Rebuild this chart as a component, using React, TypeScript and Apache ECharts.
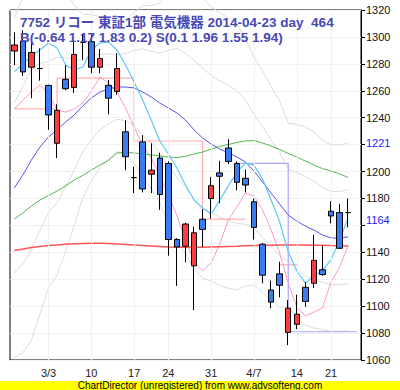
import React, { useEffect, useRef } from 'react';
import * as echarts from 'echarts';

const dates = [
  '2/25', '2/26', '2/27', '2/28', '3/3', '3/4', '3/5', '3/6', '3/7', '3/10',
  '3/11', '3/12', '3/13', '3/14', '3/17', '3/18', '3/19', '3/20', '3/24', '3/25',
  '3/26', '3/27', '3/28', '3/31', '4/1', '4/2', '4/3', '4/4', '4/7', '4/8',
  '4/9', '4/10', '4/11', '4/14', '4/15', '4/16', '4/17', '4/21', '4/22', '4/23', '4/24',
];
const tickIndex = [4, 9, 14, 18, 23, 28, 33, 37];
const tickText = ['3/3', '10', '17', '24', '31', '4/7', '14', '21'];

const opens = [1289.5, 1297, 1277.5, 1276.5, 1264, 1221, 1268.5, 1262.5, 1296, 1296.5, 1277.5, 1264, 1259.5, 1229.5, 1195.5, 1222, 1198, 1210, 1206, 1149.5, 1144.5, 1130, 1164.5, 1180, 1199, 1217.5, 1206, 1195, 1177.5, 1146, 1112, 1124, 1080.5, 1086.5, 1114, 1117, 1127, 1170.5, 1169.5, 1169.5];
const closes = [1294, 1274, 1288.5, 1276.5, 1242, 1245.5, 1261.5, 1287, 1296, 1277.5, 1284, 1254.5, 1276.5, 1211, 1195.5, 1187, 1201, 1183, 1149.5, 1144, 1161, 1154.5, 1157, 1189.5, 1196.5, 1207.5, 1192, 1190, 1158.5, 1123, 1103, 1115.5, 1098.5, 1094, 1103.5, 1134, 1123.5, 1167, 1143, 1169.5];
const lows = [1279, 1271, 1254.5, 1267.5, 1231, 1210, 1260.5, 1258.5, 1283, 1273, 1273, 1242.5, 1257, 1201, 1184, 1184.5, 1184, 1171.5, 1137.5, 1115, 1132.5, 1097, 1144, 1165, 1176.5, 1205.5, 1186, 1184.5, 1149.5, 1117, 1098.5, 1106.5, 1071, 1083, 1099.5, 1113.5, 1122.5, 1161.5, 1142.5, 1158.5];
const highs = [1303.5, 1305, 1296.5, 1291.5, 1264.5, 1250, 1279, 1296.5, 1302, 1301.5, 1291, 1268, 1288, 1238, 1203.5, 1227, 1221, 1214, 1207.5, 1150.5, 1162, 1159, 1172, 1196, 1208, 1224, 1207.5, 1201.5, 1180, 1147, 1119, 1133, 1104.5, 1108.5, 1118, 1153, 1145, 1178, 1176, 1180];

const cyanLine = [1274.2, 1279.9, 1285.8, 1290.3, 1295.5, 1291.8, 1279.1, 1275.4, 1277.7, 1290.3, 1295.5, 1296.2, 1290.3, 1279.1, 1266.5, 1253.1, 1238.3, 1222.7, 1213, 1202.6, 1190, 1178.8, 1172.9, 1168.4, 1178.8, 1189.2, 1199.6, 1206.3, 1204.8, 1194.4, 1178.8, 1162.5, 1140.2, 1126.1, 1117.1, 1122.3, 1126.8, 1134.3, 1149.1, 1165.5];
const blueLine = [1187.8, 1197.4, 1208.6, 1218.2, 1225.7, 1230.9, 1236.8, 1242, 1248.7, 1254.6, 1259.1, 1261.3, 1262.8, 1262.8, 1262.1, 1259.1, 1255.4, 1250.9, 1247.2, 1243.5, 1238.3, 1230.9, 1224.9, 1220.4, 1216.7, 1213.8, 1210.8, 1207.1, 1200.4, 1192.2, 1184, 1175.9, 1167.7, 1163.2, 1159.5, 1156.5, 1152.8, 1150.6, 1150.6, 1151.4];
const greenLine = [1164.7, 1169.2, 1174.4, 1178.9, 1182.2, 1185.5, 1189.3, 1193.7, 1197.1, 1201.1, 1204.8, 1208.2, 1213.8, 1214.1, 1213.8, 1213, 1212.3, 1211.5, 1210.8, 1210.4, 1211.2, 1213, 1214.5, 1216.7, 1218.6, 1220.1, 1221.6, 1222.7, 1223.1, 1221.2, 1219, 1216.4, 1213.4, 1210.8, 1207.8, 1204.9, 1202.2, 1200.4, 1198.2, 1195.6];
const redLine = [1141.3, 1142.4, 1143.6, 1144.3, 1145, 1145.4, 1145.9, 1146.3, 1146.5, 1146.7, 1146.7, 1146.5, 1146.2, 1145.8, 1145.4, 1145, 1144.7, 1144.3, 1143.9, 1143.8, 1143.7, 1143.7, 1143.7, 1143.9, 1144.1, 1144.3, 1144.5, 1144.8, 1145, 1145.2, 1145.3, 1145.4, 1145.4, 1145.4, 1145.4, 1145.3, 1145.2, 1145, 1144.9, 1144.7];
const pinkLine = [1246.5, 1253.1, 1259.1, 1264.3, 1257.6, 1245.7, 1244.2, 1246.5, 1250.9, 1259.8, 1270.2, 1265.8, 1259.1, 1247.2, 1233.1, 1219.7, 1210, 1196.7, 1182.6, 1167, 1149.1, 1132.8, 1126.1, 1132.1, 1146.2, 1164, 1173.6, 1184, 1181.8, 1171.4, 1156.6, 1139.5, 1117.2, 1099.4, 1092.7, 1095.7, 1098.6, 1117.9, 1129.1, 1144.7];
const redStep = [1246.5, 1246.5, 1246.5, 1246.5, 1246.5, 1269.4, 1269.4, 1269.4, 1269.4, 1269.4, 1269.4, 1269.4, 1269.4, 1269.4, 1222.7, 1222.7, 1222.7, 1222.7, 1222.7, 1222.7, 1222.7, 1222.7, 1164.7, 1164.7, 1164.7, 1164.7, 1164.7, null, null, null, null, 1130.6, 1130.6, null, null, null, null, null, null, null, null];
const blueStep = [null, null, null, null, null, null, null, null, null, null, null, null, null, null, null, null, null, null, null, null, null, null, null, null, null, null, 1206.1, 1206.1, 1206.1, 1206.1, 1206.1, 1206.1, 1081, 1081, 1081, 1081, 1081, 1081, 1081, 1081, 1081];
const bandUpper2 = [1313.8, 1329.4, 1342.6, 1342.2, 1337.7, 1338.9, 1332.8, 1324, 1316.7, 1316.6, 1315.1, 1313.3, 1310.8, 1312.8, 1318.1, 1323.1, 1323.4, 1324.9, 1333.2, 1339.5, 1337.3, 1334.1, 1328.9, 1322.2, 1318.1, 1314.4, 1309.4, 1299.3, 1284.8, 1274.6, 1263, 1252.5, 1235.9, 1235, 1233.3, 1229.3, 1223.2, 1219.8, 1219.8, 1221.2];
const bandUpper1 = [1250.8, 1263.4, 1275.6, 1280.2, 1281.7, 1284.9, 1284.8, 1283, 1282.7, 1285.6, 1287.1, 1287.3, 1286.8, 1287.8, 1290.1, 1291.1, 1289.4, 1287.9, 1290.2, 1291.5, 1287.8, 1282.5, 1276.9, 1271.3, 1267.4, 1264.1, 1260.1, 1253.2, 1242.6, 1233.4, 1223.5, 1214.2, 1201.8, 1199.1, 1196.4, 1192.9, 1188, 1185.2, 1185.2, 1186.3];
const bandLower1 = [1124.8, 1131.4, 1141.6, 1156.2, 1169.7, 1176.9, 1188.8, 1201, 1214.7, 1223.6, 1231.1, 1235.3, 1238.8, 1237.8, 1234.1, 1227.1, 1221.4, 1213.9, 1204.2, 1195.5, 1188.8, 1179.3, 1172.9, 1169.5, 1166, 1163.5, 1161.5, 1161, 1158.2, 1151, 1144.5, 1137.6, 1133.6, 1127.3, 1122.6, 1120.1, 1117.6, 1116, 1116, 1116.5];
const bandLower2 = [1061.8, 1065.4, 1074.6, 1094.2, 1113.7, 1122.9, 1140.8, 1160, 1180.7, 1192.6, 1203.1, 1209.3, 1214.8, 1212.8, 1206.1, 1195.1, 1187.4, 1176.9, 1161.2, 1147.5, 1139.3, 1127.7, 1120.9, 1118.6, 1115.3, 1113.2, 1112.2, 1114.9, 1116, 1109.8, 1105, 1099.3, 1099.5, 1091.4, 1085.7, 1083.7, 1082.4, 1081.4, 1081.4, 1081.6];

const markedValues = [1221, 1164];
const hiddenTicks = [1220, 1160];

const titleLine1 = '7752 リコー 東証1部 電気機器 2014-04-23 day  464';
const titleLine2 = 'B(-0.64 1.17 1.83 0.2) S(0.1 1.96 1.55 1.94)';
const footerText = 'ChartDirector (unregistered) from www.advsofteng.com';

const FONT = '"Liberation Sans", Arial, "Noto Sans CJK JP", sans-serif';

function lineSeries(name: string, data: (number | null)[], color: string, z: number, width = 1, extra: any = {}) {
  return {
    type: 'line',
    name,
    data,
    symbol: 'none',
    showSymbol: false,
    silent: true,
    z,
    lineStyle: { color, width },
    itemStyle: { color },
    animation: false,
    ...extra,
  };
}

export default function App() {
  const ref = useRef<HTMLDivElement>(null);

  useEffect(() => {
    if (!ref.current) return;
    const chart = echarts.init(ref.current, undefined, { renderer: 'svg' });
    const candleData = opens.map((o, i) => [o, closes[i], lows[i], highs[i]]);
    const gray = '#dcdcdc';

    chart.setOption({
      animation: false,
      backgroundColor: '#ffffff',
      grid: {
        left: 10,
        right: 39,
        top: 10,
        bottom: 30,
        show: true,
        borderColor: '#000000',
        borderWidth: 1,
        backgroundColor: 'transparent',
      },
      xAxis: {
        type: 'category',
        data: dates,
        boundaryGap: true,
        axisLine: { show: false },
        axisTick: { show: false },
        splitLine: { show: false },
        axisLabel: {
          interval: 0,
          margin: 7,
          fontSize: 11,
          color: '#222222',
          fontFamily: FONT,
          formatter: (_v: string, idx: number) => {
            const k = tickIndex.indexOf(idx);
            return k >= 0 ? tickText[k] : '';
          },
        },
      },
      yAxis: {
        type: 'value',
        position: 'right',
        min: 1060,
        max: 1320,
        interval: 20,
        axisLine: { show: true, lineStyle: { color: '#000000' } },
        axisTick: { show: true, length: 4, lineStyle: { color: '#000000' } },
        splitLine: { show: true, lineStyle: { color: '#f1f1f1', width: 1 } },
        axisLabel: {
          margin: 5,
          fontSize: 11,
          color: '#111111',
          fontFamily: FONT,
          formatter: (v: number) => (hiddenTicks.indexOf(v) >= 0 ? '' : String(v)),
        },
      },
      series: [
        lineSeries('bbU2', bandUpper2, gray, 1, 1, {
          clip: false,
          markLine: {
            silent: true,
            symbol: ['none', 'none'],
            label: { show: false },
            lineStyle: { color: '#f0f0f0', width: 1, type: 'solid' },
            animation: false,
            data: tickIndex.map((i) => ({ xAxis: dates[i] })),
          },
        }),
        lineSeries('bbU1', bandUpper1, gray, 1, 1, { clip: false }),
        lineSeries('bbL1', bandLower1, gray, 1, 1, { clip: false }),
        lineSeries('bbL2', bandLower2, gray, 1, 1, { clip: false }),
        lineSeries('stepR', redStep, '#ffb0b0', 2, 1.2, { step: 'end', connectNulls: false }),
        lineSeries('stepB', blueStep, '#a6a6ff', 2, 1.2, { step: 'end', connectNulls: false }),
        lineSeries('pink', pinkLine, '#ff99c8', 2),
        lineSeries('red', redLine, '#ff5555', 2, 1.5),
        lineSeries('green', greenLine, '#50b850', 2),
        lineSeries('blue', blueLine, '#5555ee', 2),
        lineSeries('cyan', cyanLine, '#5ccaf8', 2, 1.2, {
          markLine: {
            silent: true,
            symbol: ['none', 'none'],
            animation: false,
            lineStyle: { color: 'rgba(0,0,0,0)', width: 0 },
            label: {
              show: true,
              position: 'end',
              distance: 5,
              color: '#1a1aff',
              fontSize: 11,
              fontFamily: FONT,
              formatter: (p: any) => String(p.value),
            },
            data: markedValues.map((v) => ({ yAxis: v })),
          },
        }),
        {
          type: 'candlestick',
          name: 'price',
          data: candleData,
          barWidth: 6,
          z: 5,
          silent: true,
          itemStyle: {
            color: '#ff3b3b',
            color0: '#3a7af2',
            borderColor: '#000000',
            borderColor0: '#000000',
            borderColorDoji: '#000000',
            borderWidth: 1,
          },
        },
      ],
      graphic: [
        {
          type: 'text',
          x: 20,
          y: 22,
          z: 100,
          style: {
            text: titleLine1,
            fill: '#4848b6',
            font: `bold 13.5px ${FONT}`,
            verticalAlign: 'middle',
            textVerticalAlign: 'middle',
          },
        },
        {
          type: 'text',
          x: 20,
          y: 37,
          z: 100,
          style: {
            text: titleLine2,
            fill: '#4848b6',
            font: `bold 13.5px ${FONT}`,
            verticalAlign: 'middle',
            textVerticalAlign: 'middle',
          },
        },
        {
          type: 'rect',
          shape: { x: 0, y: 381, width: 400, height: 9 },
          style: { fill: '#ffff00' },
          z: 100,
        },
        {
          type: 'text',
          x: 200,
          y: 385.5,
          z: 101,
          style: {
            text: footerText,
            fill: '#000000',
            font: `10px ${FONT}`,
            align: 'center',
            textAlign: 'center',
            verticalAlign: 'middle',
            textVerticalAlign: 'middle',
          },
        },
      ],
    });

    return () => {
      chart.dispose();
    };
  }, []);

  return (
    <div
      ref={ref}
      style={{ position: 'absolute', left: 0, top: 0, width: 400, height: 390, background: '#ffffff' }}
    />
  );
}
